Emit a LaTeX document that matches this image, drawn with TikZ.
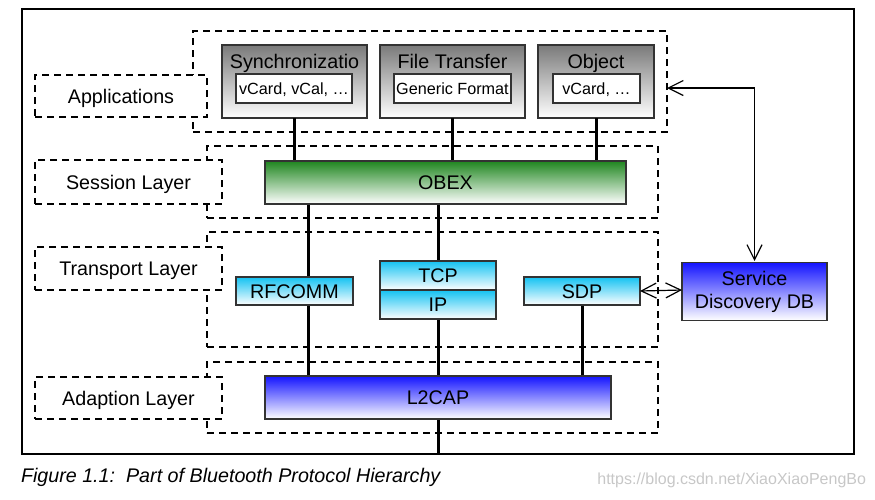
\documentclass[tikz,border=0pt]{standalone}
\usepackage{fontspec}
\setmainfont{Liberation Sans}
\usetikzlibrary{arrows.meta}
\definecolor{boxgray}{HTML}{7A7A7A}
\definecolor{obexgreen}{HTML}{1F861F}
\definecolor{tcyan}{HTML}{14C2F2}
\definecolor{lblue}{HTML}{1414FF}
\definecolor{edge}{HTML}{333333}
\begin{document}
\begin{tikzpicture}[x=1pt,y=-1pt,
  every node/.style={inner sep=0pt, outer sep=0pt, font=\fontsize{19.7}{23}\selectfont},
  capc/.style={text height=14.1pt, text depth=0pt},
  region/.style={draw=black, line width=1.8pt, dash pattern=on 7pt off 5pt},
  lbl/.style={region, fill=white, capc},
  box/.style={draw=edge, line width=1.2pt},
  graybox/.style={box, top color=boxgray, bottom color=white},
  whitebox/.style={box, fill=white, font=\fontsize{16.2}{19}\selectfont, text height=11.6pt, text depth=0pt},
  greenbox/.style={box, top color=obexgreen, bottom color=white, capc},
  cyanbox/.style={box, top color=tcyan, bottom color=white, capc},
  bluebox/.style={box, top color=lblue, bottom color=white, align=center},
  conn/.style={draw=black, line width=3pt},
  arr/.style={draw=black, line width=1.2pt, {Straight Barb[length=15pt,width=15pt]}-{Straight Barb[length=15pt,width=15pt]}}
]
\useasboundingbox (0,0) rectangle (875,499);
\node[draw=black, line width=1.1pt, minimum width=832, minimum height=445] (frame) at (438,231.5) {};

% regions
\node[region, minimum width=474, minimum height=101] (appreg) at (430,81.5) {};
\node[region, minimum width=451, minimum height=72] (sessreg) at (432.5,182) {};
\node[region, minimum width=451, minimum height=115] (transreg) at (432.5,289.5) {};
\node[region, minimum width=451, minimum height=71] (adreg) at (432.5,397.5) {};

% layer labels
\node[lbl, minimum width=172, minimum height=42] (applbl) at (121,96) {Applications};
\node[lbl, minimum width=187, minimum height=44] (sesslbl) at (128.5,182) {Session Layer};
\node[lbl, minimum width=187, minimum height=43] (translbl) at (128.5,268.5) {Transport Layer};
\node[lbl, minimum width=187, minimum height=42] (adlbl) at (128.5,398) {Adaption Layer};

% coordinates
\coordinate (rfx) at (308,0);
\coordinate (bot) at (438,454);
\coordinate (apptip) at (667,88);

% application boxes
\node[graybox, minimum width=145, minimum height=73] (sync) at (294.5,81.5) {};
\node[graybox, minimum width=145, minimum height=73] (ft) at (452.5,81.5) {};
\node[graybox, minimum width=116, minimum height=73] (obj) at (596,81.5) {};
\node[capc] (synct) at (294.5,61.5) {Synchronizatio};
\node[capc] (ftt) at (452.5,61.5) {File Transfer};
\node[capc] (objt) at (596,61.5) {Object};
\node[whitebox, minimum width=116, minimum height=29] (synci) at (294,88.5) {vCard, vCal, \dots};
\node[whitebox, minimum width=117, minimum height=29] (fti) at (452.5,88.5) {Generic Format};
\node[whitebox, minimum width=87, minimum height=29] (obji) at (596.5,88.5) {vCard, \dots};

% other boxes (placed first for connector anchors)
\node[minimum width=361, minimum height=43] (obex) at (445.5,182.5) {};
\node[minimum width=117, minimum height=28] (rf) at (294.5,291) {};
\node[minimum width=116, minimum height=29] (tcp) at (438,275.5) {};
\node[minimum width=116, minimum height=29] (ip) at (438,304.5) {};
\node[minimum width=116, minimum height=28] (sdp) at (582,291) {};
\node[minimum width=145, minimum height=58] (sdb) at (754.5,290) {};
\node[minimum width=346, minimum height=43] (l2cap) at (438,397.5) {};

% connectors
\draw[conn] (sync.south) -- (sync.south |- obex.north);
\draw[conn] (ft.south) -- (ft.south |- obex.north);
\draw[conn] (obj.south) -- (obj.south |- obex.north);
\draw[conn] (obex.south -| rfx) -- (l2cap.north -| rfx);
\draw[conn] (obex.south -| tcp.north) -- (tcp.north);
\draw[conn] (ip.south) -- (ip.south |- l2cap.north);
\draw[conn] (sdp.south) -- (sdp.south |- l2cap.north);
\draw[conn] (l2cap.south) -- (bot);

% visible boxes
\node[greenbox, minimum width=361, minimum height=43] at (obex) {OBEX};
\node[cyanbox, minimum width=117, minimum height=28] at (rf) {RFCOMM};
\node[cyanbox, minimum width=116, minimum height=29] at (tcp) {TCP};
\node[cyanbox, minimum width=116, minimum height=29] at (ip) {IP};
\node[cyanbox, minimum width=116, minimum height=28] at (sdp) {SDP};
\node[bluebox, minimum width=145, minimum height=58] at ([yshift=-1.5pt]sdb.center) {Service\\Discovery DB};
\node[bluebox, capc, minimum width=346, minimum height=43] at (l2cap) {L2CAP};

% arrows
\draw[arr] (sdp.east) -- (sdb.west);
\draw[arr] (apptip) -| (sdb.north);

% caption
\node[anchor=west, font=\fontsize{19.7}{23}\selectfont\itshape] (cap) at (21,477) {Figure 1.1:\ \ Part of Bluetooth Protocol Hierarchy};
\node[anchor=east, text=black!22, font=\fontsize{16}{19}\selectfont] (wm) at (866,480) {https://blog.csdn.net/XiaoXiaoPengBo};
\end{tikzpicture}
\end{document}
